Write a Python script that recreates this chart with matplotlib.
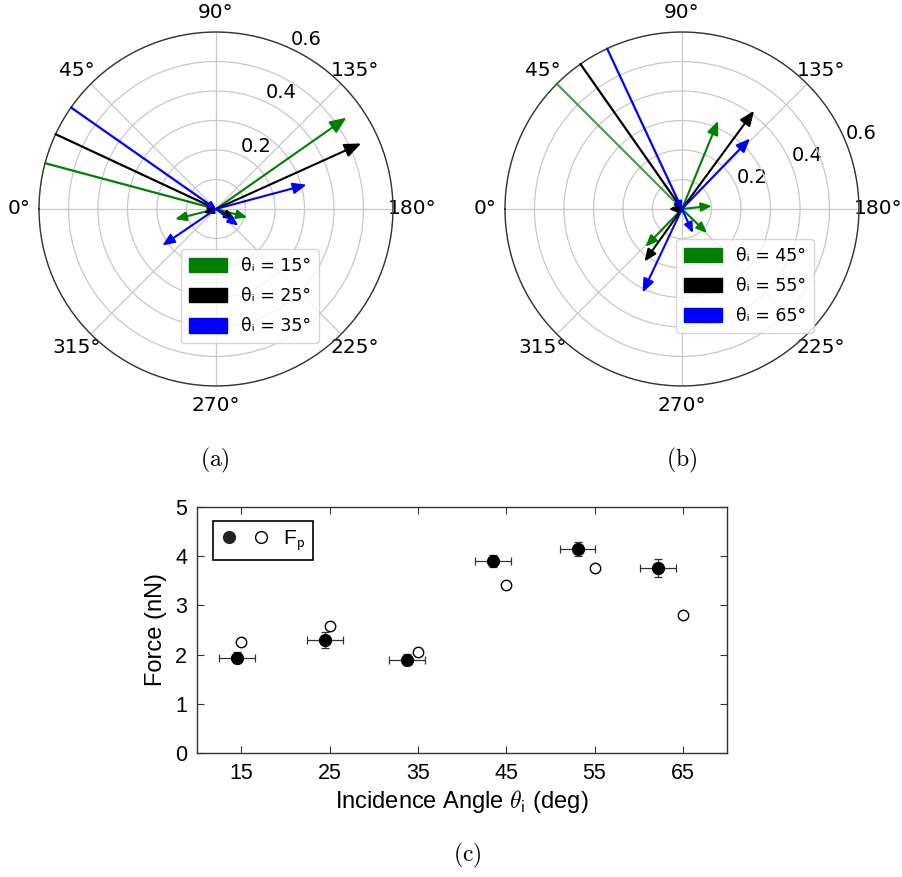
import matplotlib
matplotlib.use('Agg')
import matplotlib.pyplot as plt
import numpy as np
from matplotlib.patches import Patch
from matplotlib.legend_handler import HandlerTuple

plt.rcParams['mathtext.fontset'] = 'cm'

# ---- data -----------------------------------------------------------
colors = ['green', 'black', 'blue']

# (a) incidence angles and force arrows (direction in deg, magnitude)
inc_a = [15, 25, 35]
dirs_a = [[145, 346, 195], [155.7, 208, 342], [165, 325.7, 216.7]]
mags_a = [[0.54, 0.143, 0.11], [0.54, 0.073, 0.045], [0.318, 0.22, 0.095]]

# (b)
inc_b = [45, 55, 65]
dirs_b = [[112.3, 174, 314, 223.8, 5], [126.3, 305.5, 0], [134, 295.2, 245.4]]
mags_b = [[0.323, 0.102, 0.178, 0.118, 0.04], [0.413, 0.219, 0.045], [0.332, 0.313, 0.09]]

# (c) force vs incidence angle
meas_angle = [14.5, 24.5, 33.8, 43.5, 53.1, 62.2]
meas_force = [1.94, 2.29, 1.90, 3.90, 4.15, 3.76]
meas_xerr = [2.05, 2.05, 2.05, 2.05, 2.0, 2.05]
meas_yerr = [0.12, 0.16, 0.12, 0.12, 0.14, 0.18]
model_angle = [15, 25, 35, 45, 55, 65]
model_force = [2.25, 2.58, 2.05, 3.41, 3.76, 2.81]

rmax = 0.6


def polar_panel(ax, inc, dirs, mags, rlabel, legend_anchor, inc_alpha):
    ax.set_theta_zero_location('W')
    ax.set_theta_direction(-1)
    ax.set_ylim(0, rmax)
    ax.set_rticks([0.1, 0.2, 0.3, 0.4, 0.5, 0.6])
    ax.set_yticklabels(['', '0.2', '', '0.4', '', '0.6'], fontsize=14)
    ax.set_rlabel_position(rlabel)
    ax.set_thetagrids(np.arange(0, 360, 45),
                      ['%d°' % a for a in range(0, 360, 45)], fontsize=14.5)
    ax.grid(color='#c8c8c8', lw=0.9)
    ax.spines['polar'].set_linewidth(1.0)
    ax.spines['polar'].set_color('#333333')

    for k, c in enumerate(colors):
        # incident beam
        ax.annotate('', xy=(0, 0), xytext=(np.deg2rad(inc[k]), rmax),
                    arrowprops=dict(arrowstyle='-|>', color=c, lw=1.6,
                                    alpha=inc_alpha[k], shrinkA=0, shrinkB=0,
                                    mutation_scale=10))
        for th, r in zip(dirs[k], mags[k]):
            ax.annotate('', xy=(np.deg2rad(th), r), xytext=(0, 0),
                        arrowprops=dict(arrowstyle='-|>,head_length=0.6,head_width=0.25',
                                        color=c, lw=1.5, shrinkA=0, shrinkB=0,
                                        mutation_scale=9 + 14 * r))

    handles = [Patch(color=c) for c in colors]
    labels = ['θᵢ = %d°' % a for a in inc]
    ax.legend(handles, labels, loc='lower left', bbox_to_anchor=legend_anchor,
              borderaxespad=0, fontsize=12.5, handlelength=2.2, handleheight=0.9,
              labelspacing=0.7, borderpad=0.45, handletextpad=0.8)


fig = plt.figure(figsize=(9.02, 8.77), dpi=100)

ax1 = fig.add_axes([0.0432, 0.5599, 0.3925, 0.4036], projection='polar')
polar_panel(ax1, inc_a, dirs_a, mags_a, 115, (0.401, 0.121), [1, 1, 1])

ax2 = fig.add_axes([0.5598, 0.5599, 0.3925, 0.4036], projection='polar')
polar_panel(ax2, inc_b, dirs_b, mags_b, 158, (0.483, 0.150), [0.65, 1, 1])

fig.text(0.2384, 0.475, r'$\mathrm{(a)}$', ha='center', va='center', fontsize=17)
fig.text(0.7561, 0.475, r'$\mathrm{(b)}$', ha='center', va='center', fontsize=17)

# ---- (c) ------------------------------------------------------------
sans = 'Liberation Sans'
ax3 = fig.add_axes([0.2184, 0.1414, 0.5876, 0.2805])
ax3.errorbar(meas_angle, meas_force, xerr=meas_xerr, yerr=meas_yerr, fmt='o',
             color='black', ms=8.5, ecolor='#333333', elinewidth=0.9,
             capsize=3, capthick=0.9, zorder=3)
ax3.plot(model_angle, model_force, 'o', mfc='white', mec='black', ms=7.5,
         mew=1.0, zorder=3)

ax3.set_xlim(10, 70)
ax3.set_ylim(0, 5)
ax3.set_xticks(model_angle)
ax3.set_xticklabels([str(a) for a in model_angle], fontfamily=sans, fontsize=15.5)
ax3.set_yticks([0, 1, 2, 3, 4, 5])
ax3.set_yticklabels([str(v) for v in range(6)], fontfamily=sans, fontsize=15.5)
ax3.tick_params(direction='in', top=True, right=True, length=5, width=0.8,
                pad=7, color='#333333')
for s in ax3.spines.values():
    s.set_linewidth(1.0)
    s.set_color('#333333')

ax3.set_ylabel('Force (nN)', fontsize=17, fontfamily=sans, labelpad=6)
ax3.set_xlabel(r'Incidence Angle $\theta_\mathsf{i}$ (deg)', fontsize=17,
               fontfamily=sans, labelpad=3)

h_fill, = ax3.plot([], [], 'o', color='#222222', ms=8.5)
h_open, = ax3.plot([], [], 'o', mfc='white', mec='black', ms=8.5, mew=1.0)
leg = ax3.legend([(h_fill, h_open)], [r'F$_\mathsf{p}$'],
                 handler_map={tuple: HandlerTuple(ndivide=None, pad=0.7)},
                 loc='upper left', bbox_to_anchor=(0.03, 0.943), borderaxespad=0,
                 fancybox=False, edgecolor='black', framealpha=1,
                 handlelength=2.4, handletextpad=0.6,
                 prop={'family': sans, 'size': 15}, borderpad=0.35)
leg.get_frame().set_linewidth(1.2)

fig.text(0.5177, 0.025, r'$\mathrm{(c)}$', ha='center', va='center', fontsize=17)

fig.savefig('out.png', dpi=100)
